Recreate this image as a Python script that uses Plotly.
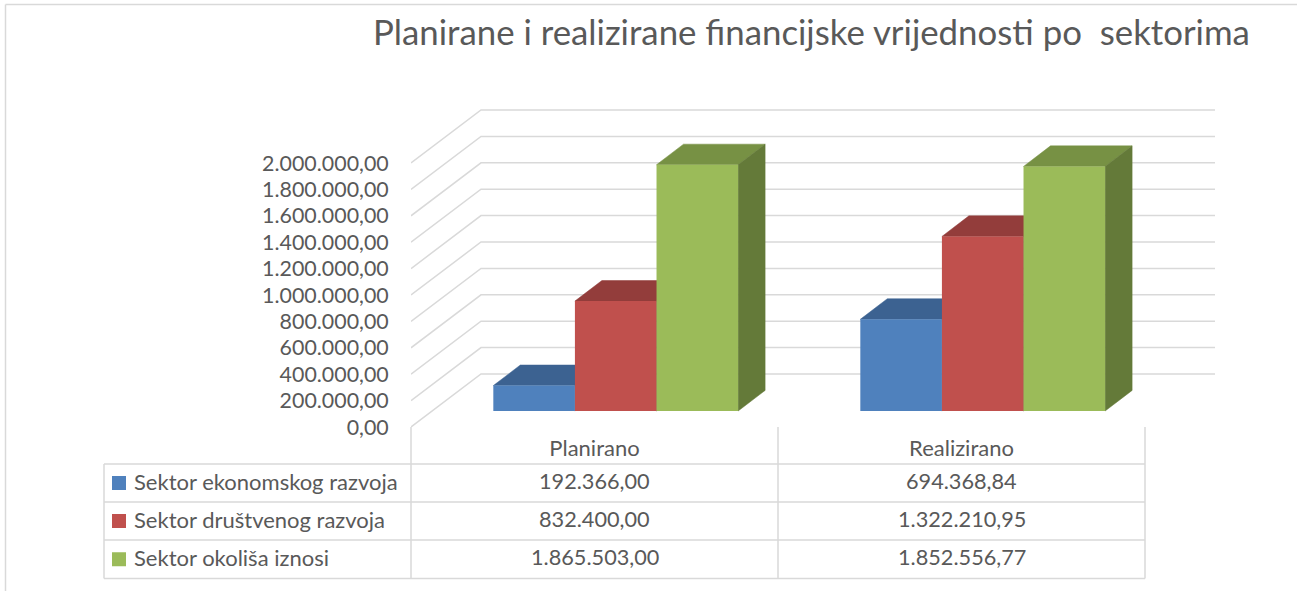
import plotly.graph_objects as go

# ---------- data ----------
categories = ["Planirano", "Realizirano"]
series_names = ["Sektor ekonomskog razvoja", "Sektor društvenog razvoja", "Sektor okoliša iznosi"]
ekonomski = [192366.00, 694368.84]
drustveni = [832400.00, 1322210.95]
okolis = [1865503.00, 1852556.77]
tick_values = [0, 200000, 400000, 600000, 800000, 1000000, 1200000, 1400000, 1600000, 1800000, 2000000]

front_colors = ["#4F81BD", "#C0504D", "#9BBB59"]
top_colors = ["#3C6291", "#933D3B", "#779144"]
side_colors = ["#2F4D73", "#743130", "#647A39"]
GRID = "#D9D9D9"
TEXT = "#595959"
FONT = "Lato"

W, H = 1297, 591
# plot area in pixels
PL, PR, PT, PB = 411, 1215, 100, 427
CAT_PX = 367.0
PX_PER_UNIT = 132e-6
x_range = [-0.5, (PR - PL) / CAT_PX - 0.5]
y_range = [0, (PB - PT) / PX_PER_UNIT]

# depth geometry in axis units
wall_dx = 70 / CAT_PX
wall_dv = 53 / PX_PER_UNIT
bar_dx = 27 / CAT_PX
bar_dv = 20.6 / PX_PER_UNIT
bar_base = 16 / PX_PER_UNIT
bar_w = 81.6 / CAT_PX
group_left = -0.2757


def fmt(v):
    s = f"{v:,.2f}"
    return s.replace(",", "X").replace(".", ",").replace("X", ".")


def px(x):
    return x / W


def py(y):
    return 1 - y / H


series = [ekonomski, drustveni, okolis]
fig = go.Figure()

# wall gridlines
gx, gy = [], []
for t in tick_values:
    gx += [x_range[0], x_range[0] + wall_dx, x_range[1], None]
    gy += [t, t + wall_dv, t + wall_dv, None]
fig.add_trace(go.Scatter(x=gx, y=gy, mode="lines", line=dict(color=GRID, width=1.5),
                         hoverinfo="skip", showlegend=False, cliponaxis=False))

# top and side faces of the columns
for s, vals in enumerate(series):
    for c, v in enumerate(vals):
        left = c + group_left + s * bar_w
        right = left + bar_w
        top = bar_base + v
        fig.add_trace(go.Scatter(
            x=[left, left + bar_dx, right + bar_dx, right, left],
            y=[top, top + bar_dv, top + bar_dv, top, top],
            mode="lines", fill="toself", fillcolor=top_colors[s], line=dict(color=top_colors[s], width=0.5),
            hoverinfo="skip", showlegend=False, cliponaxis=False))
        fig.add_trace(go.Scatter(
            x=[right, right + bar_dx, right + bar_dx, right, right],
            y=[bar_base, bar_base + bar_dv, top + bar_dv, top, bar_base],
            mode="lines", fill="toself", fillcolor=side_colors[s], line=dict(color=side_colors[s], width=0.5),
            hoverinfo="skip", showlegend=False, cliponaxis=False))

# front faces
for s, vals in enumerate(series):
    fig.add_trace(go.Bar(
        x=[c + group_left + (s + 0.5) * bar_w for c in range(len(categories))],
        y=vals, base=bar_base, width=bar_w, name=series_names[s],
        marker=dict(color=front_colors[s], line=dict(width=0)),
        xaxis="x2", yaxis="y2", showlegend=False))

# data table
shapes = []
line = dict(color=GRID, width=1.5)
col_edges = [PL, PL + CAT_PX, PL + 2 * CAT_PX]
row_edges = [464, 502, 540, 578.5]
TEXT_LIFT = 2
for y in row_edges:
    shapes.append(dict(type="line", xref="paper", yref="paper", x0=px(104), x1=px(col_edges[-1]),
                       y0=py(y), y1=py(y), line=line))
shapes.append(dict(type="line", xref="paper", yref="paper", x0=px(104), x1=px(104),
                   y0=py(row_edges[0]), y1=py(row_edges[-1]), line=line))
for x in col_edges:
    shapes.append(dict(type="line", xref="paper", yref="paper", x0=px(x), x1=px(x),
                       y0=py(PB), y1=py(row_edges[-1]), line=line))
# chart frame (left and top only)
shapes.append(dict(type="line", xref="paper", yref="paper", x0=px(5.5), x1=px(5.5), y0=py(4.5), y1=py(H), line=line))
shapes.append(dict(type="line", xref="paper", yref="paper", x0=px(5.5), x1=px(W), y0=py(4.5), y1=py(4.5), line=line))

annotations = []
font = dict(family=FONT, size=22, color=TEXT)
value_font = dict(family=FONT, size=21.7, color=TEXT)
for s, vals in enumerate(series):
    yc = (row_edges[s] + row_edges[s + 1]) / 2
    shapes.append(dict(type="rect", xref="paper", yref="paper", x0=px(112), x1=px(126),
                       y0=py(yc - 7), y1=py(yc + 7), fillcolor=front_colors[s], line=dict(width=0)))
    annotations.append(dict(xref="paper", yref="paper", x=px(132), y=py(yc - TEXT_LIFT), xanchor="left",
                            yanchor="middle", text=series_names[s], showarrow=False, font=font))
    for c, v in enumerate(vals):
        annotations.append(dict(xref="paper", yref="paper", x=px(PL + (c + 0.5) * CAT_PX), y=py(yc - TEXT_LIFT),
                                xanchor="center", yanchor="middle", text=fmt(v), showarrow=False, font=value_font))

annotations.append(dict(xref="paper", yref="paper", x=px(812), y=py(31), xanchor="center", yanchor="middle",
                        text="Planirane i realizirane financijske vrijednosti po  sektorima", showarrow=False,
                        font=dict(family=FONT, size=34.8, color=TEXT)))

domx = [px(PL), px(PR)]
domy = [py(PB), py(PT)]
fig.update_layout(
    width=W, height=H, autosize=False, margin=dict(l=0, r=0, t=0, b=0),
    paper_bgcolor="white", plot_bgcolor="white", barmode="overlay", showlegend=False,
    shapes=shapes, annotations=annotations,
    xaxis=dict(domain=domx, range=x_range, tickmode="array", tickvals=list(range(len(categories))),
               ticktext=categories, ticks="outside", ticklen=2, tickcolor="rgba(0,0,0,0)", automargin=False,
               showgrid=False, zeroline=False, showline=False, tickfont=font),
    yaxis=dict(domain=domy, range=y_range, tickmode="array", tickvals=tick_values,
               ticktext=[fmt(t) for t in tick_values], ticks="outside", ticklen=17, tickcolor="rgba(0,0,0,0)",
               automargin=False, showgrid=False, zeroline=False, showline=False,
               tickfont=dict(family=FONT, size=21.4, color=TEXT)),
    xaxis2=dict(domain=domx, range=x_range, overlaying="x", anchor="y2", visible=False, automargin=False),
    yaxis2=dict(domain=domy, range=y_range, overlaying="y", anchor="x2", visible=False, automargin=False),
)

fig.write_html("out.html", config=dict(displayModeBar=False),
               post_script="document.documentElement.style.overflow='hidden';document.body.style.margin='0';document.body.style.overflow='hidden';")
